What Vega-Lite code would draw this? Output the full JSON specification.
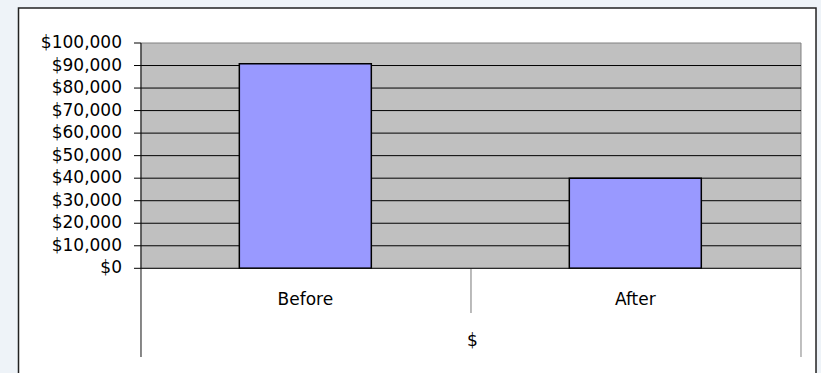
{
  "$schema": "https://vega.github.io/schema/vega-lite/v6.json",
  "width": 821,
  "height": 373,
  "autosize": {"type": "none"},
  "padding": 0,
  "background": "#EEF3F8",
  "config": {"view": {"stroke": null}, "font": "DejaVu Sans"},
  "datasets": {
    "yticks": [
      {"v": 0}, {"v": 10000}, {"v": 20000}, {"v": 30000}, {"v": 40000}, {"v": 50000},
      {"v": 60000}, {"v": 70000}, {"v": 80000}, {"v": 90000}, {"v": 100000}
    ]
  },
  "layer": [
    {
      "data": {"values": [{}]},
      "mark": {"type": "rect", "fill": "#ffffff", "stroke": "#222222", "strokeWidth": 1.5, "clip": true},
      "encoding": {
        "x": {"datum": -0.3712, "type": "quantitative", "scale": {"domain": [-0.42727, 2.06061], "nice": false, "zero": false}, "axis": null},
        "x2": {"datum": 2.0455},
        "y": {"datum": 115535, "type": "quantitative", "scale": {"domain": [-46471, 119086], "nice": false, "zero": false}, "axis": null},
        "y2": {"datum": -60000}
      }
    },
    {
      "data": {"values": [{}]},
      "mark": {"type": "rect", "fill": "#C0C0C0", "stroke": "#808080", "strokeWidth": 1},
      "encoding": {
        "x": {"datum": 0, "type": "quantitative", "scale": {"domain": [-0.42727, 2.06061], "nice": false, "zero": false}, "axis": null},
        "x2": {"datum": 2},
        "y": {"datum": 0, "type": "quantitative", "axis": null},
        "y2": {"datum": 100000}
      }
    },
    {
      "data": {"name": "yticks"},
      "transform": [{"filter": "datum.v > 0 && datum.v < 100000"}],
      "mark": {"type": "rule", "color": "#000000", "strokeWidth": 1},
      "encoding": {
        "x": {"datum": 0, "type": "quantitative", "scale": {"domain": [-0.42727, 2.06061], "nice": false, "zero": false}, "axis": null},
        "x2": {"datum": 2},
        "y": {"field": "v", "type": "quantitative", "axis": null}
      }
    },
    {
      "data": {"values": [{"period": "Before", "amount": 90800}, {"period": "After", "amount": 40000}]},
      "mark": {"type": "bar", "fill": "#9999FF", "stroke": "#000000", "strokeWidth": 1.5},
      "encoding": {
        "x": {
          "field": "period",
          "type": "nominal",
          "sort": null,
          "scale": {"type": "band", "paddingInner": 0.6, "paddingOuter": 0.544, "align": 0.6666},
          "axis": {
            "orient": "bottom",
            "offset": -104.7,
            "domain": false,
            "ticks": false,
            "tickSize": 0,
            "labelAngle": 0,
            "labelPadding": 23,
            "labelFont": "DejaVu Sans",
            "labelFontSize": 17,
            "labelColor": "#000000",
            "title": "$",
            "titleFont": "DejaVu Sans",
            "titleFontSize": 17,
            "titleFontWeight": "normal",
            "titleColor": "#000000",
            "titleX": 472,
            "titleY": 77,
            "titleAlign": "center",
            "titleBaseline": "alphabetic",
            "zindex": 1
          }
        },
        "y": {
          "field": "amount",
          "type": "quantitative",
          "scale": {"domain": [-46471, 119086], "nice": false, "zero": false},
          "axis": null
        }
      }
    },
    {
      "data": {"values": [{}]},
      "mark": {"type": "rule", "color": "#111111", "strokeWidth": 1},
      "encoding": {
        "x": {"datum": 0, "type": "quantitative", "scale": {"domain": [-0.42727, 2.06061], "nice": false, "zero": false}, "axis": null},
        "y": {"datum": 100000, "type": "quantitative", "axis": null},
        "y2": {"datum": -39370}
      }
    },
    {
      "data": {"values": [{}]},
      "mark": {"type": "rule", "color": "#777777", "strokeWidth": 1},
      "encoding": {
        "x": {"datum": 1, "type": "quantitative", "scale": {"domain": [-0.42727, 2.06061], "nice": false, "zero": false}, "axis": null},
        "y": {"datum": 0, "type": "quantitative", "axis": null},
        "y2": {"datum": -19840}
      }
    },
    {
      "data": {"values": [{}]},
      "mark": {"type": "rule", "color": "#808080", "strokeWidth": 1},
      "encoding": {
        "x": {"datum": 2, "type": "quantitative", "scale": {"domain": [-0.42727, 2.06061], "nice": false, "zero": false}, "axis": null},
        "y": {"datum": 0, "type": "quantitative", "axis": null},
        "y2": {"datum": -39370}
      }
    },
    {
      "data": {"values": [{}]},
      "mark": {"type": "rule", "color": "#111111", "strokeWidth": 1},
      "encoding": {
        "x": {"datum": 0, "type": "quantitative", "scale": {"domain": [-0.42727, 2.06061], "nice": false, "zero": false}, "axis": null},
        "x2": {"datum": 2},
        "y": {"datum": 0, "type": "quantitative", "axis": null}
      }
    },
    {
      "data": {"name": "yticks"},
      "mark": {"type": "rule", "color": "#000000", "strokeWidth": 1},
      "encoding": {
        "x": {"datum": -0.0212, "type": "quantitative", "scale": {"domain": [-0.42727, 2.06061], "nice": false, "zero": false}, "axis": null},
        "x2": {"datum": 0},
        "y": {"field": "v", "type": "quantitative", "axis": null}
      }
    },
    {
      "data": {"name": "yticks"},
      "mark": {"type": "text", "align": "right", "baseline": "middle", "font": "DejaVu Sans", "fontSize": 17, "color": "#000000"},
      "encoding": {
        "x": {"datum": -0.0576, "type": "quantitative", "scale": {"domain": [-0.42727, 2.06061], "nice": false, "zero": false}, "axis": null},
        "y": {"field": "v", "type": "quantitative", "axis": null},
        "text": {"field": "v", "type": "quantitative", "format": "$,.0f"}
      }
    }
  ],
  "resolve": {"scale": {"x": "independent"}, "axis": {"x": "independent"}}
}
